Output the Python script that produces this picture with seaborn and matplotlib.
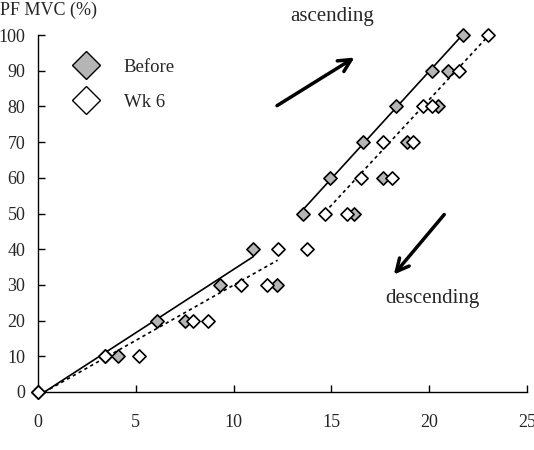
import numpy as np
import pandas as pd
import seaborn as sns
import matplotlib.pyplot as plt
from matplotlib.lines import Line2D

# % MVC levels
asc_levels = [0, 10, 20, 30, 40, 50, 60, 70, 80, 90, 100]
before_asc_x = [0, 3.43, 6.07, 9.3, 11.0, 13.53, 14.93, 16.6, 18.3, 20.13, 21.71]
wk6_asc_x = [0, 3.4, 7.9, 10.4, 12.25, 14.67, 16.5, 17.62, 19.67, 21.54, 23.02]

before_desc_levels = [90, 80, 70, 60, 50, 30, 20, 10]
before_desc_x = [20.98, 20.47, 18.85, 17.62, 16.16, 12.2, 7.5, 4.07]
wk6_desc_levels = [80, 70, 60, 50, 40, 30, 20, 10]
wk6_desc_x = [20.13, 19.15, 18.08, 15.78, 13.76, 11.7, 8.67, 5.17]

groups = ['Before', 'Wk 6']
colors = {'Before': '#b5b5b5', 'Wk 6': 'white'}

sns.set_style('ticks')
plt.rcParams['font.family'] = ['Liberation Serif', 'DejaVu Serif']

rows = []
for x, y in zip(before_asc_x, asc_levels):
    rows.append(('Before', 'asc', x, y))
for x, y in zip(before_desc_x, before_desc_levels):
    rows.append(('Before', 'desc', x, y))
for x, y in zip(wk6_asc_x, asc_levels):
    rows.append(('Wk 6', 'asc', x, y))
for x, y in zip(wk6_desc_x, wk6_desc_levels):
    rows.append(('Wk 6', 'desc', x, y))
df = pd.DataFrame(rows, columns=['group', 'dir', 'x', 'y'])

fig = plt.figure(figsize=(5.34, 4.5), dpi=100)
ax = fig.add_axes([38/534, 58/450, 489/534, 357/450])

# trend lines through ascending points, low and high parts
asc = df[df['dir'] == 'asc']
line_styles = {'Before': '-', 'Wk 6': (0, (2, 2))}
for g in groups:
    d = asc[asc['group'] == g]
    for part in [d[d['y'] <= 40], d[d['y'] >= 50]]:
        sns.regplot(data=part, x='x', y='y', ax=ax, scatter=False, ci=None,
                    truncate=True, color='black',
                    line_kws={'linewidth': 1.2, 'linestyle': line_styles[g]})

for g in groups:
    sns.scatterplot(data=df[df['group'] == g], x='x', y='y', ax=ax, marker='D',
                    color=colors[g], edgecolor='black', linewidth=1.2, s=45,
                    legend=False, zorder=3)
for c in ax.collections:
    c.set_clip_on(False)

ax.set_xlim(0, 25)
ax.set_ylim(0, 100)
ax.set_xticks(range(0, 26, 5))
ax.set_yticks(range(0, 101, 10))
ax.set_xlabel('')
ax.set_ylabel('')
ax.tick_params(direction='in', length=5, width=1, labelsize=13, color='black', pad=9)
ax.tick_params(axis='x', pad=16)
for s in ['top', 'right']:
    ax.spines[s].set_visible(False)
for s in ['left', 'bottom']:
    ax.spines[s].set_color('black')
    ax.spines[s].set_linewidth(1)

handles = [Line2D([], [], marker='D', linestyle='none', markersize=14.5,
                  markerfacecolor=colors[g], markeredgecolor='black',
                  markeredgewidth=1) for g in groups]
ax.legend(handles, groups, loc='upper left', bbox_to_anchor=(0.045, 0.955),
          frameon=False, fontsize=13.5, labelspacing=0.95, handletextpad=1.0,
          borderaxespad=0)

arrow = dict(arrowstyle='->, head_length=0.9, head_width=0.45', linewidth=2.5, color='black')
ax.annotate('', xy=(16.3, 94.1), xytext=(12.1, 79.8), arrowprops=arrow,
            annotation_clip=False)
ax.annotate('', xy=(18.1, 32.3), xytext=(20.86, 50.3), arrowprops=arrow)
ax.text(15.03, 105.2, 'ascending', ha='center', va='center', fontsize=15, clip_on=False)
ax.text(20.14, 26.3, 'descending', ha='center', va='center', fontsize=15)

fig.text(0.0, 1 - 10/450, 'PF MVC (%)', ha='left', va='center', fontsize=13)

fig.savefig('out.png', dpi=100)
